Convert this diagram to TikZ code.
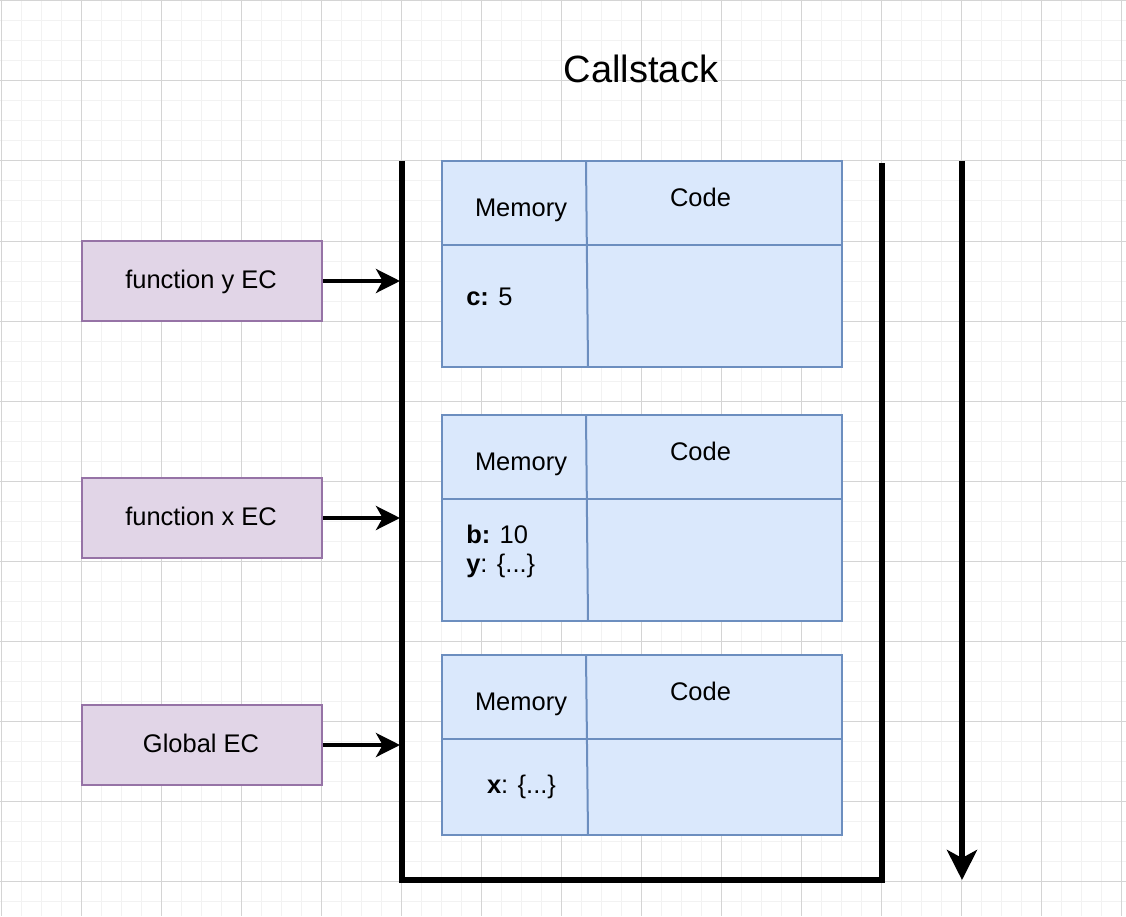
\documentclass[tikz,border=0pt]{standalone}
\usepackage{fontspec}
\setmainfont{Liberation Sans}
\usetikzlibrary{arrows.meta}
\definecolor{ecfill}{HTML}{E1D5E7}
\definecolor{ecdraw}{HTML}{9673A6}
\definecolor{tbfill}{HTML}{DAE8FC}
\definecolor{tbdraw}{HTML}{6C8EBF}
\definecolor{gridmin}{HTML}{F2F2F2}
\definecolor{gridmaj}{HTML}{D4D4D4}
\newcommand\bodyfnt{\fontsize{19.1}{23}\selectfont}
\newcommand\titlefnt{\fontsize{28.5}{34}\selectfont}
\begin{document}
\begin{tikzpicture}[x=0.75pt,y=-0.75pt,
  gminor/.style={draw=gridmin,line width=0.75pt},
  gmajor/.style={draw=gridmaj,line width=0.75pt},
  ecbox/.style={draw=ecdraw,fill=ecfill,line width=1.5pt,minimum width=180pt,minimum height=60pt,inner sep=0pt,font=\bodyfnt},
  tbbox/.style={draw=tbdraw,fill=tbfill,line width=1.5pt,inner sep=0pt,minimum width=300pt},
  tbline/.style={draw=tbdraw,line width=1.5pt},
  txt/.style={inner sep=0pt,font=\bodyfnt,text=black},
  stackline/.style={draw=black,line width=4.5pt,line join=miter,line cap=butt},
  ecarrow/.style={draw=black,line width=3pt,-{Stealth[length=18pt,width=18pt,inset=5pt]}},
  bigarrow/.style={draw=black,line width=4.5pt,-{Stealth[length=22.5pt,width=22.5pt,inset=6pt]}}
]
\useasboundingbox (0,0) rectangle (1126,916);
\fill[white] (0,0) rectangle (1126,916);
% grid
\foreach \x in {1,21,...,1121} \draw[gminor] (\x,0) -- (\x,916);
\foreach \y in {1,21,...,901} \draw[gminor] (0,\y) -- (1126,\y);
\foreach \x in {1,81,...,1121} \draw[gmajor] (\x,0) -- (\x,916);
\foreach \y in {1,81,...,881} \draw[gmajor] (0,\y) -- (1126,\y);

% title
\node[inner sep=0pt,font=\titlefnt,anchor=base] (title) at (641,83) {Callstack};

% stack container
\coordinate (sTL) at (401.5,161);
\coordinate (sBL) at (401.5,880);
\coordinate (sBR) at (882,880);
\coordinate (sTR) at (882,163);
\draw[stackline] (sTL) -- (sBL) -- (sBR) -- (sTR);

% direction arrow
\coordinate (aTop) at (962,161);
\coordinate (aBot) at (962,880);
\draw[bigarrow] (aTop) -- (aBot);

% execution context boxes
\node[ecbox] (fy) at (202,281) {};
\node[txt,anchor=base] (fyt) at (201,288.5) {function y EC};
\node[ecbox] (fx) at (202,518) {};
\node[txt,anchor=base] (fxt) at (201,525.5) {function x EC};
\node[ecbox] (gl) at (202,745) {};
\node[txt,anchor=base] (glt) at (201,752.5) {Global EC};

\coordinate (py) at (400,281);
\coordinate (px) at (400,518);
\coordinate (pg) at (400,745);
\draw[ecarrow] (fy.east) -- (py);
\draw[ecarrow] (fx.east) -- (px);
\draw[ecarrow] (gl.east) -- (pg);

% table 1
\node[tbbox,minimum height=154.5pt] (t1) at (642,264) {};
\draw[tbline] (442,245) -- (842,245);
\draw[tbline] (586,161) -- (588,367);
\node[txt,anchor=base] (m1) at (521,216) {Memory};
\node[txt,anchor=base] (c1) at (700.5,206.5) {Code};
\node[txt,anchor=base west] (v1) at (466,305) {\textbf{c:} 5};

% table 2
\node[tbbox,minimum height=154.5pt] (t2) at (642,518) {};
\draw[tbline] (442,498.5) -- (842,498.5);
\draw[tbline] (586,415) -- (588,621);
\node[txt,anchor=base] (m2) at (521,470) {Memory};
\node[txt,anchor=base] (c2) at (700.5,460.5) {Code};
\node[txt,anchor=base west] (v2a) at (466,543) {\textbf{b:} 10};
\node[txt,anchor=base west] (v2b) at (466,572) {\textbf{y}: \{...\}};

% table 3
\node[tbbox,minimum height=135pt] (t3) at (642,745) {};
\draw[tbline] (442,739) -- (842,739);
\draw[tbline] (586,655) -- (588,835);
\node[txt,anchor=base] (m3) at (521,710) {Memory};
\node[txt,anchor=base] (c3) at (700.5,700.5) {Code};
\node[txt,anchor=base] (v3) at (521.5,793) {\textbf{x}: \{...\}};
\end{tikzpicture}
\end{document}
